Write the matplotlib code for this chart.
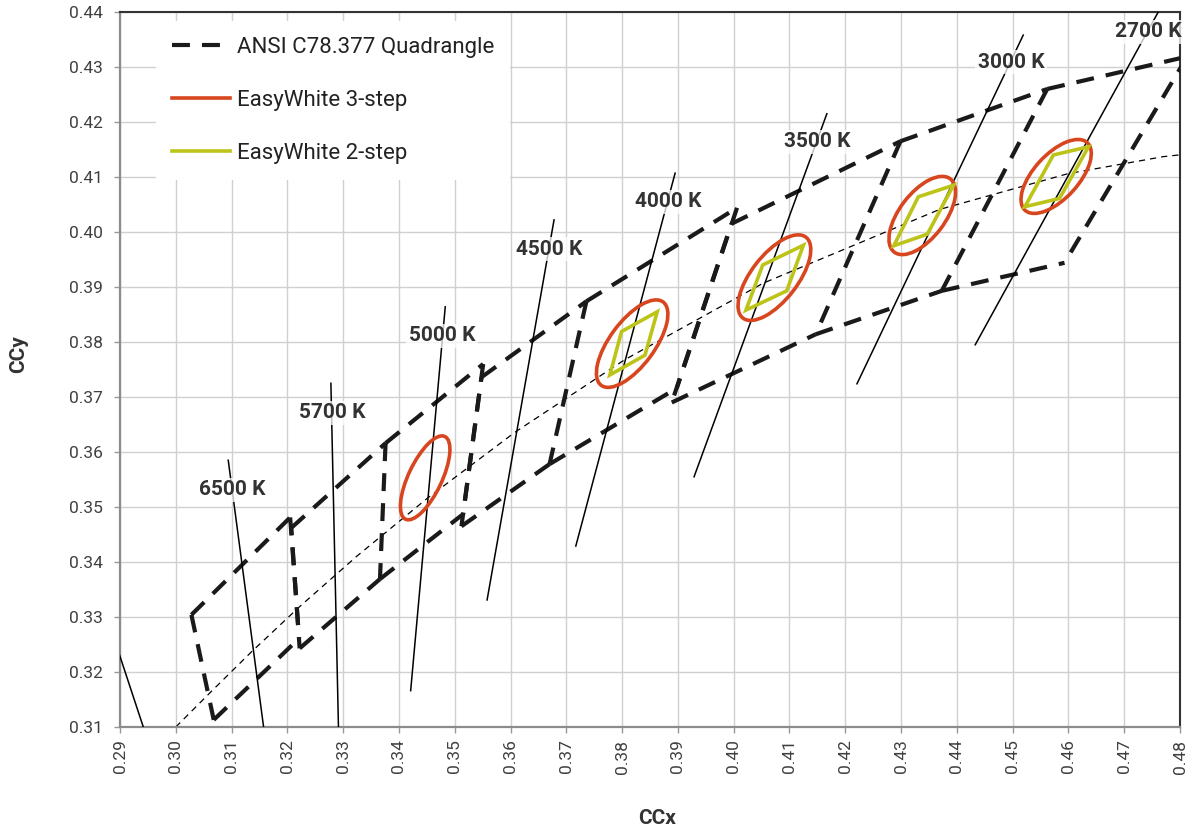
import numpy as np
import matplotlib
matplotlib.use("Agg")
import matplotlib.pyplot as plt
from matplotlib.patches import Ellipse, Polygon

plt.rcParams['font.family'] = ['Roboto', 'DejaVu Sans']

# ANSI C78.377 quadrangles (corners: top-right, top-left, bottom-left, bottom-right)
cct_names = ['6500 K', '5700 K', '5000 K', '4500 K', '4000 K', '3500 K', '3000 K', '2700 K']
quad_x = [
    [0.3205, 0.3028, 0.3068, 0.3221],
    [0.3376, 0.3207, 0.3222, 0.3366],
    [0.3551, 0.3376, 0.3366, 0.3515],
    [0.3736, 0.3548, 0.3512, 0.3670],
    [0.4006, 0.3736, 0.3670, 0.3898],
    [0.4299, 0.3996, 0.3889, 0.4147],
    [0.4562, 0.4299, 0.4147, 0.4373],
    [0.4813, 0.4562, 0.4373, 0.4593],
]
quad_y = [
    [0.3481, 0.3304, 0.3113, 0.3261],
    [0.3616, 0.3462, 0.3243, 0.3369],
    [0.3760, 0.3616, 0.3369, 0.3487],
    [0.3874, 0.3736, 0.3465, 0.3578],
    [0.4044, 0.3874, 0.3578, 0.3716],
    [0.4165, 0.4015, 0.3690, 0.3814],
    [0.4260, 0.4165, 0.3814, 0.3893],
    [0.4319, 0.4260, 0.3893, 0.3944],
]

# blackbody locus (thin dashed)
locus_x = [0.3000, 0.3064, 0.3135, 0.3221, 0.3325, 0.3451, 0.3608, 0.3805, 0.4053, 0.4369, 0.4599, 0.4770, 0.4862]
locus_y = [0.3100, 0.3165, 0.3236, 0.3318, 0.3411, 0.3516, 0.3636, 0.3768, 0.3907, 0.4041, 0.4106, 0.4137, 0.4147]

# isotherm lines: start and end points
iso_x0 = [0.2880, 0.3094, 0.3278, 0.3483, 0.3678, 0.3895, 0.4167, 0.4519, 0.4761]
iso_y0 = [0.3290, 0.3585, 0.3725, 0.3864, 0.4022, 0.4107, 0.4215, 0.4358, 0.4400]
iso_x1 = [0.2945, 0.3160, 0.3292, 0.3421, 0.3558, 0.3717, 0.3929, 0.4221, 0.4433]
iso_y1 = [0.3090, 0.3080, 0.3080, 0.3166, 0.3331, 0.3429, 0.3555, 0.3724, 0.3795]

# CCT label positions
label_x = [0.3101, 0.3280, 0.3477, 0.3669, 0.3882, 0.4149, 0.4497, 0.4744]
label_y = [0.3531, 0.3671, 0.3811, 0.3969, 0.4055, 0.4164, 0.4309, 0.4364]

# EasyWhite 3-step ellipses (5000K, 4000K, 3500K, 3000K, 2700K)
ell_cx = [0.3447, 0.3818, 0.4073, 0.4338, 0.4578]
ell_cy = [0.3553, 0.3797, 0.3917, 0.4030, 0.4101]
ell_a = [0.0083, 0.00939, 0.00927, 0.00834, 0.0083]
ell_b = [0.0030, 0.00402, 0.00414, 0.00408, 0.0040]
ell_ang = [65.0, 54.0, 52.6, 53.2, 48.0]

# EasyWhite 2-step quadrangles (4000K, 3500K, 3000K, 2700K)
dia_x = [
    [0.3778, 0.3799, 0.3863, 0.3841],
    [0.4022, 0.4052, 0.4125, 0.4095],
    [0.4287, 0.4331, 0.4394, 0.4347],
    [0.4522, 0.4573, 0.4636, 0.4584],
]
dia_y = [
    [0.3740, 0.3819, 0.3855, 0.3776],
    [0.3858, 0.3940, 0.3976, 0.3893],
    [0.3975, 0.4064, 0.4085, 0.3996],
    [0.4046, 0.4140, 0.4155, 0.4061],
]

red = '#D8461F'
green = '#BCC419'
quad_lw = 3
quad_dash = (4.3, 2.9)

fig = plt.figure(figsize=(11.94, 8.34), dpi=100)
ax = fig.add_axes([120/1194, 107/834, 1060/1194, 715/834])
ax.set_xlim(0.29, 0.48)
ax.set_ylim(0.31, 0.44)

# quadrangle edges, each from its upper/left end; a shared edge is drawn once,
# a left edge lying next to the previous right edge gets the same dash phase
edges = [(1, 0), (0, 3), (2, 3), (1, 2)]
for i in range(len(quad_x)):
    qx, qy = quad_x[i], quad_y[i]
    shared = (i > 0 and qx[1] == quad_x[i-1][0] and qy[1] == quad_y[i-1][0]
              and qx[2] == quad_x[i-1][3] and qy[2] == quad_y[i-1][3])
    for j, (p, q) in enumerate(edges):
        if shared and j == 3:
            continue
        offset = 0
        if j == 3 and i > 0:
            a = ax.transData.transform((qx[1], qy[1]))
            b = ax.transData.transform((qx[2], qy[2]))
            s = ax.transData.transform((quad_x[i-1][0], quad_y[i-1][0]))
            u = (b - a) / np.hypot(*(b - a))
            offset = max(np.dot(a - s, u), 0) * 72 / fig.dpi / quad_lw
        ax.plot([qx[p], qx[q]], [qy[p], qy[q]], color='#1a1a1a',
                lw=quad_lw, ls=(offset, quad_dash), zorder=3,
                label='ANSI C78.377 Quadrangle' if i == 0 and j == 0 else None)

ax.plot(locus_x, locus_y, color='black', lw=0.9, dashes=(5, 4), zorder=2)

for x0, y0, x1, y1 in zip(iso_x0, iso_y0, iso_x1, iso_y1):
    ax.plot([x0, x1], [y0, y1], color='black', lw=1.1, zorder=4)

for cx, cy, a, b, ang in zip(ell_cx, ell_cy, ell_a, ell_b, ell_ang):
    ax.add_patch(Ellipse((cx, cy), 2*a, 2*b, angle=ang, fill=False,
                         ec=red, lw=2.6, zorder=5))
ax.plot([], [], color=red, lw=2.6, label='EasyWhite 3-step')

for dx, dy in zip(dia_x, dia_y):
    ax.add_patch(Polygon(list(zip(dx, dy)), closed=True, fill=False,
                         ec=green, lw=2.6, joinstyle='miter', zorder=6))
ax.plot([], [], color=green, lw=2.6, label='EasyWhite 2-step')

for lx, ly, name in zip(label_x, label_y, cct_names):
    ax.text(lx, ly, name, ha='center', va='center', fontsize=15,
            fontweight='bold', color='#333333', zorder=7,
            bbox=dict(boxstyle='square,pad=0.12', fc='white', ec='none', alpha=0.75))

xt = np.round(np.arange(0.29, 0.4801, 0.01), 2)
yt = np.round(np.arange(0.31, 0.4401, 0.01), 2)
ax.set_xticks(xt)
ax.set_xticklabels(['%.2f' % v for v in xt], rotation=90)
ax.set_yticks(yt)
ax.set_yticklabels(['%.2f' % v for v in yt])
ax.set_xlim(0.29, 0.48)
ax.set_ylim(0.31, 0.44)
ax.tick_params(axis='both', colors='#999999', labelcolor='#404040',
               labelsize=12.5, length=4, width=1)
ax.tick_params(axis='y', pad=8)
ax.tick_params(axis='x', pad=5)

ax.grid(True, color='#d0d0d0', lw=1.0)
ax.set_axisbelow(True)
for s in ['left', 'bottom']:
    ax.spines[s].set_color('#8c8c8c')
    ax.spines[s].set_linewidth(1.6)
for s in ['top', 'right']:
    ax.spines[s].set_color('#333333')
    ax.spines[s].set_linewidth(1.5)

leg = ax.legend(loc='upper left', bbox_to_anchor=(156/1194, (834-21)/834),
                bbox_transform=fig.transFigure, fontsize=16, frameon=True,
                facecolor='white', edgecolor='none', framealpha=1, fancybox=False,
                handlelength=2.65, handletextpad=0.3, labelspacing=1.45,
                borderpad=0.7, borderaxespad=0)
leg.set_zorder(10)
for t in leg.get_texts():
    t.set_color('#222222')

fig.text(657/1194, 1-819/834, 'CCx', ha='center', va='center',
         fontsize=15, fontweight='bold', color='#333333')
fig.text(19/1194, 1-354/834, 'CCy', ha='center', va='center', rotation=90,
         fontsize=15, fontweight='bold', color='#333333')

fig.savefig('out.png', dpi=100)
